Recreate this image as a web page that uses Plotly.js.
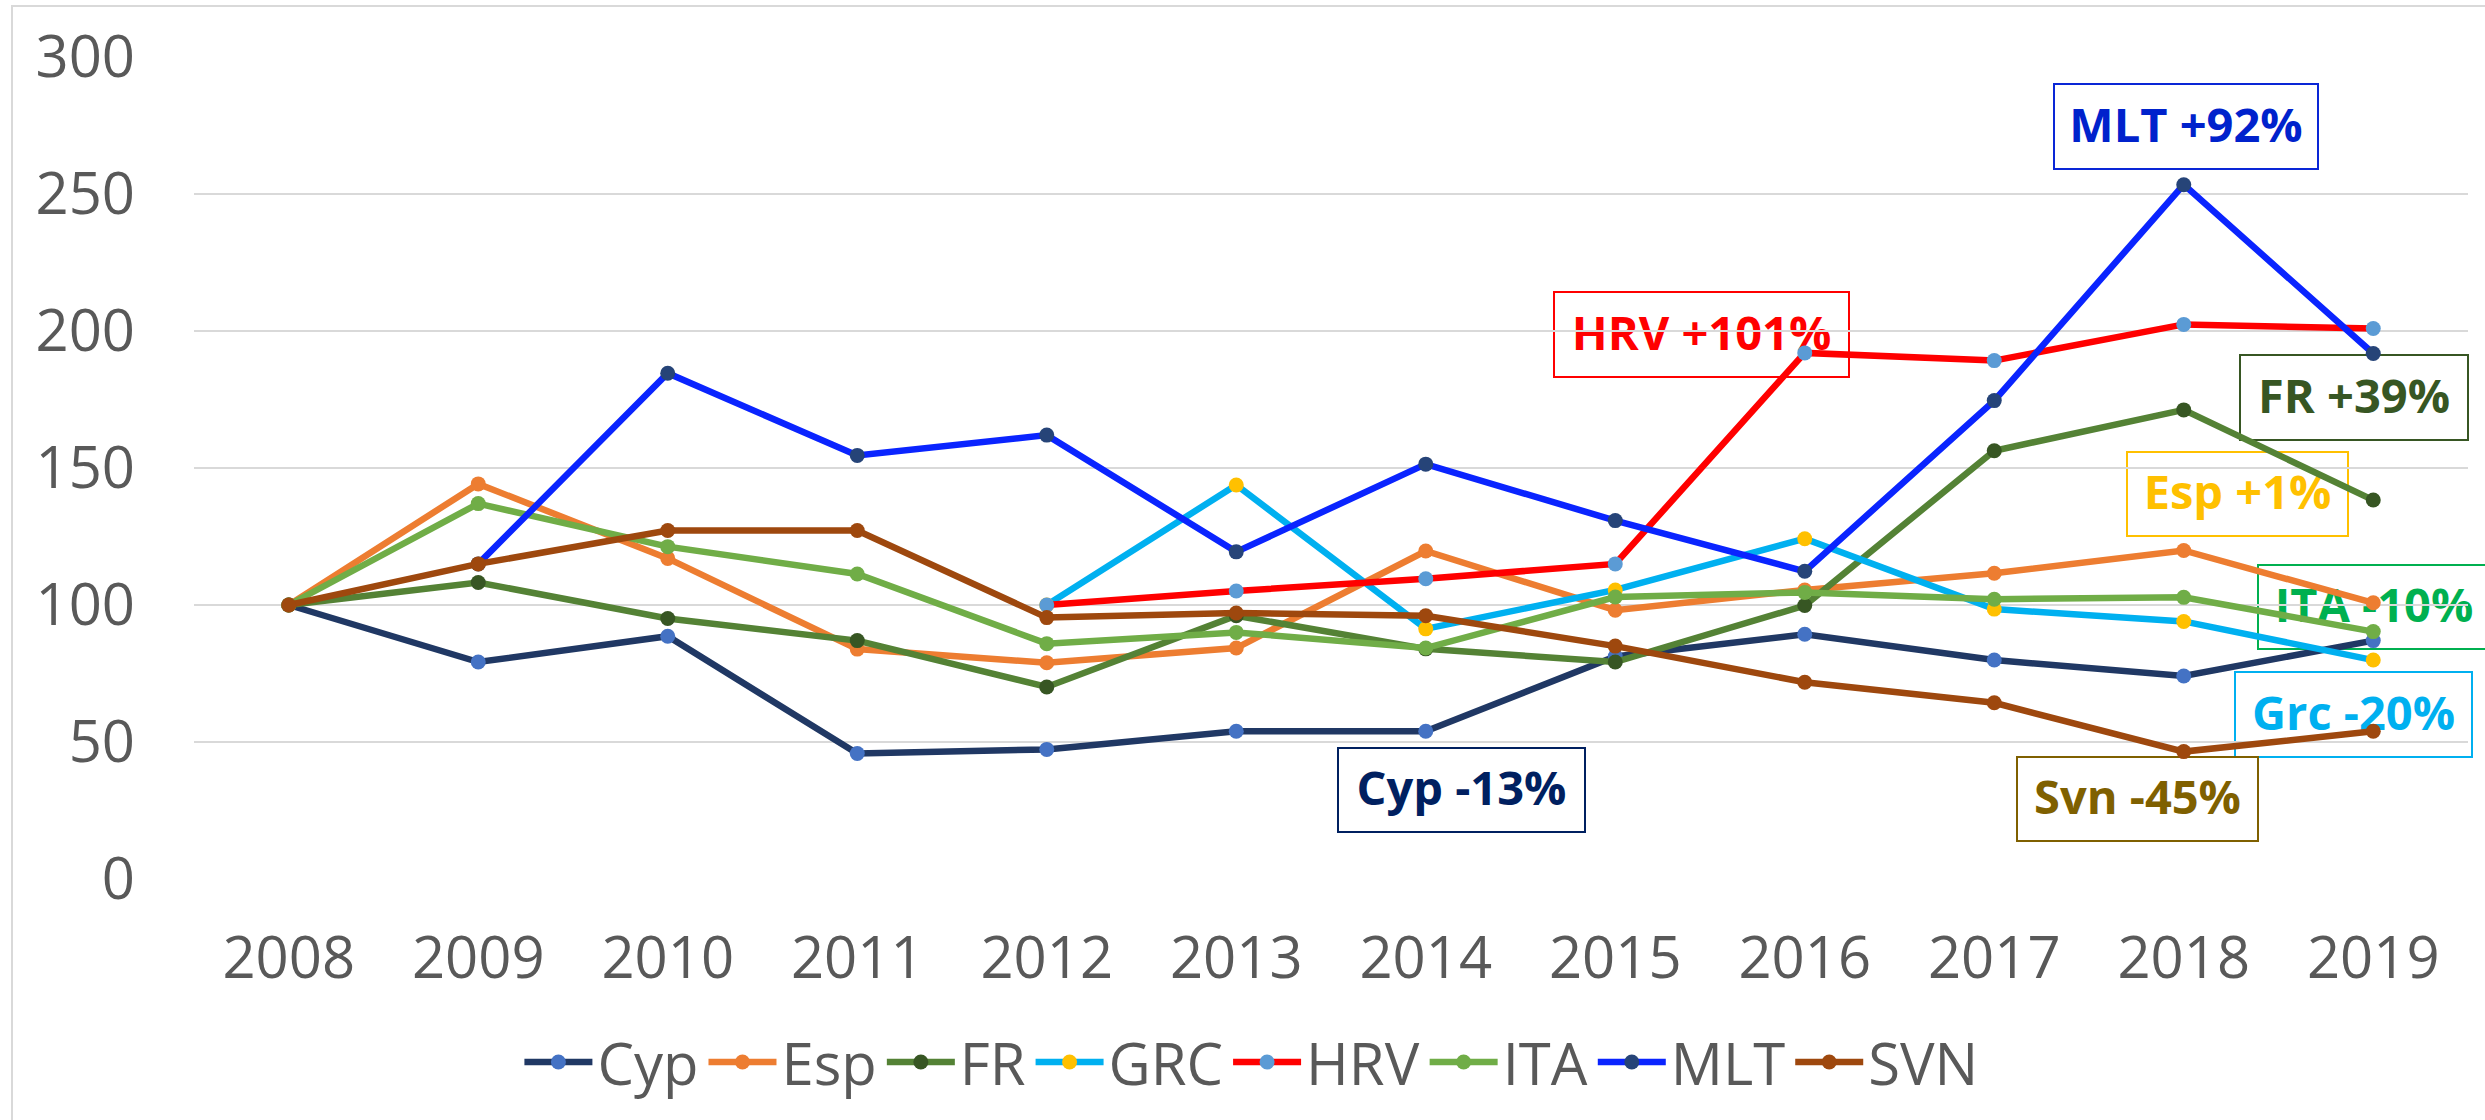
<!DOCTYPE html>
<html>
<head>
<meta charset="utf-8">
<script src="https://cdn.plot.ly/plotly-3.0.1.min.js"></script>
<style>html,body{margin:0;padding:0;background:#fff;}#chart{width:2485px;height:1120px;}</style>
</head>
<body>
<div id="chart"></div>
<script>
// ---- data ----
const years = ['2008','2009','2010','2011','2012','2013','2014','2015','2016','2017','2018','2019'];
const seriesNames = ['Cyp','Esp','FR','GRC','HRV','ITA','MLT','SVN'];
const cyp = [100, 79.2, 88.6, 45.8, 47.3, 53.9, 53.9, 81.2, 89.3, 79.9, 74.1, 87.0];
const esp = [100, 144.2, 117.0, 83.9, 78.9, 84.3, 119.7, 98.1, 105.5, 111.6, 119.9, 100.8];
const fr  = [100, 108.2, 95.1, 87.0, 70.1, 96.1, 84.0, 79.2, 99.8, 156.3, 171.2, 138.3];
const grc = [null, null, null, null, 100, 143.8, 91.3, 105.5, 124.2, 98.5, 94.0, 79.9];
const hrv = [null, null, null, null, 100, 105.1, 109.6, 115.0, 192.0, 189.2, 202.4, 200.9];
const ita = [100, 137.0, 121.3, 111.3, 85.9, 90.0, 84.3, 102.9, 104.6, 102.1, 102.8, 90.3];
const mlt = [null, 115.0, 184.6, 154.6, 162.0, 119.4, 151.4, 130.8, 112.3, 174.6, 253.4, 191.8];
const svn = [100, 115.0, 127.2, 127.2, 95.4, 97.1, 96.1, 85.0, 71.8, 64.3, 46.5, 53.9];
const yTicks = [0, 50, 100, 150, 200, 250, 300];
const labelTexts = ['MLT +92%','HRV +101%','FR +39%','Esp +1%','ITA -10%','Grc -20%','Cyp -13%','Svn -45%'];

// ---- styles ----
const values = [cyp, esp, fr, grc, hrv, ita, mlt, svn];
const lineColors   = ['#203864','#ED7D31','#548235','#00B0F0','#FF0000','#70AD47','#0A24FF','#9E480E'];
const markerColors = ['#4472C4','#ED7D31','#375623','#FFC000','#5B9BD5','#70AD47','#264478','#9E480E'];

const traces = seriesNames.map((n, i) => ({
  type: 'scatter', mode: 'lines+markers', name: n,
  x: years, y: values[i],
  line: {color: lineColors[i], width: 6.5},
  marker: {color: markerColors[i], size: 15, line: {width: 0}},
  connectgaps: false
}));

// label boxes (pixel boxes converted to paper coords)
const L = 194, R = 2468, T = 57, B = 879;
const W = R - L, H = B - T;
const px = v => (v - L) / W;
const py = v => (B - v) / H;
const boxes = [
  {x0:2054, x1:2318, y0:84,  y1:169, c:'#0A26D6', t:'#0022CC'},
  {x0:1554, x1:1849, y0:292, y1:377, c:'#FF0000', t:'#FF0000'},
  {x0:2240, x1:2468, y0:355, y1:440, c:'#375623', t:'#375623'},
  {x0:2127, x1:2348, y0:452, y1:536, c:'#FFC000', t:'#FFC000'},
  {x0:2258, x1:2490, y0:565, y1:649, c:'#00B050', t:'#00B050'},
  {x0:2235, x1:2472, y0:672, y1:757, c:'#00B0F0', t:'#00B0F0'},
  {x0:1338, x1:1585, y0:748, y1:832, c:'#002060', t:'#002060'},
  {x0:2017, x1:2258, y0:757, y1:841, c:'#7F6000', t:'#7F6000'}
];
const shapes = boxes.map((b, i) => ({
  type: 'rect', xref: 'paper', yref: 'paper', layer: 'between',
  x0: px(b.x0), x1: px(b.x1), y0: py(b.y1), y1: py(b.y0),
  line: {color: b.c, width: 2}, fillcolor: 'rgba(0,0,0,0)',
  label: {text: labelTexts[i], textposition: 'middle center',
          font: {family: 'Open Sans', size: 47, color: b.t, weight: 'bold'}}
}));
// outer chart border
shapes.push({type: 'rect', xref: 'paper', yref: 'paper', layer: 'below',
  x0: px(12), x1: px(2520), y0: py(1200), y1: py(6),
  line: {color: '#D9D9D9', width: 2}, fillcolor: 'rgba(0,0,0,0)'});

const layout = {
  width: 2485, height: 1120,
  margin: {l: L, r: 2485 - R, t: T, b: 1120 - B},
  paper_bgcolor: '#ffffff', plot_bgcolor: '#ffffff',
  font: {family: 'Open Sans', color: '#595959'},
  showlegend: true,
  legend: {orientation: 'h', x: 0.465, xanchor: 'center', y: -0.223, yanchor: 'middle',
           font: {family: 'Open Sans', size: 58, color: '#595959'}, itemwidth: 68,
           traceorder: 'normal'},
  xaxis: {type: 'category', range: [-0.5, 11.5], showgrid: false, zeroline: false,
          showline: false, ticks: '', tickfont: {family: 'Open Sans', size: 58, color: '#595959'},
          ticklabelstandoff: 40, fixedrange: true},
  yaxis: {range: [0, 300], tickvals: yTicks, showgrid: true, gridcolor: '#D9D9D9', gridwidth: 2,
          zeroline: false, showline: false, ticks: '',
          tickfont: {family: 'Open Sans', size: 58, color: '#595959'},
          ticklabelstandoff: 58, fixedrange: true},
  shapes: shapes
};

Plotly.newPlot('chart', traces, layout, {displayModeBar: false, staticPlot: true});
</script>
</body>
</html>
